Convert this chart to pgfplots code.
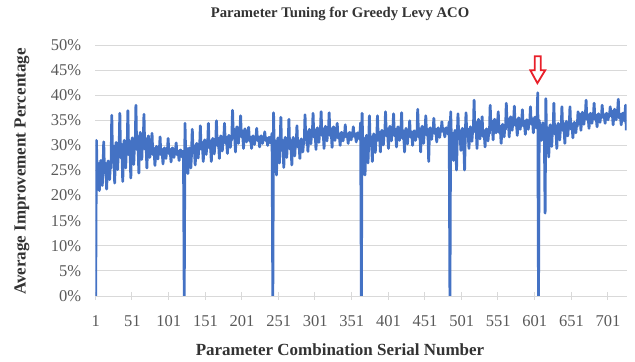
\documentclass[border=0pt]{standalone}
\usepackage{pgfplots}
\pgfplotsset{compat=1.18}
\usepackage{pgfplotstable}
\usepackage{fontspec}
\setmainfont{Liberation Serif}
\definecolor{exblue}{HTML}{4472C4}
\definecolor{gridgray}{HTML}{D9D9D9}
\definecolor{ticktext}{HTML}{595959}
\definecolor{titletext}{HTML}{333333}
\definecolor{arrowred}{HTML}{E8202A}

% Average improvement (%) for the 726 parameter combinations (one row of 11 per line)
\pgfplotstableread[row sep=\\]{
y\\
0\\ 31.0\\ 24.5\\ 26.5\\ 24.0\\ 21.0\\ 25.5\\ 27.0\\ 24.5\\ 22.0\\ 25.0\\
30.7\\ 24.6\\ 26.5\\ 25.1\\ 21.3\\ 26.0\\ 26.9\\ 25.5\\ 23.2\\ 26.0\\ 25.5\\
36.0\\ 27.2\\ 29.9\\ 27.9\\ 22.5\\ 29.3\\ 30.6\\ 28.6\\ 25.2\\ 29.3\\ 28.6\\
36.4\\ 27.6\\ 30.3\\ 28.2\\ 22.8\\ 29.6\\ 31.0\\ 28.9\\ 25.5\\ 29.6\\ 28.9\\
36.9\\ 28.2\\ 30.9\\ 28.9\\ 23.5\\ 30.2\\ 31.5\\ 29.5\\ 26.2\\ 30.2\\ 29.5\\
38.0\\ 29.2\\ 31.9\\ 29.9\\ 24.5\\ 31.3\\ 32.6\\ 30.6\\ 27.2\\ 31.3\\ 30.6\\
36.2\\ 29.3\\ 31.4\\ 29.8\\ 25.5\\ 30.9\\ 31.9\\ 30.3\\ 27.6\\ 30.9\\ 30.3\\
32.4\\ 28.2\\ 29.5\\ 28.6\\ 26.0\\ 29.2\\ 29.8\\ 28.9\\ 27.3\\ 29.2\\ 28.9\\
31.7\\ 28.2\\ 29.3\\ 28.5\\ 26.3\\ 29.0\\ 29.5\\ 28.7\\ 27.4\\ 29.0\\ 28.7\\
31.4\\ 28.4\\ 29.3\\ 28.6\\ 26.7\\ 29.1\\ 29.5\\ 28.8\\ 27.6\\ 29.1\\ 28.8\\
30.5\\ 28.2\\ 28.9\\ 28.4\\ 27.0\\ 28.8\\ 29.1\\ 28.6\\ 27.7\\ 28.8\\ 28.0\\
0\\ 34.4\\ 28.0\\ 29.5\\ 28.0\\ 24.4\\ 28.5\\ 29.5\\ 28.0\\ 25.5\\ 28.5\\
33.2\\ 28.6\\ 30.0\\ 28.9\\ 26.1\\ 29.7\\ 30.4\\ 29.3\\ 27.5\\ 29.7\\ 29.3\\
33.9\\ 29.3\\ 30.7\\ 29.6\\ 26.8\\ 30.4\\ 31.1\\ 30.0\\ 28.2\\ 30.4\\ 30.0\\
34.4\\ 29.5\\ 31.0\\ 29.8\\ 26.8\\ 30.6\\ 31.4\\ 30.2\\ 28.3\\ 30.6\\ 30.2\\
34.9\\ 30.0\\ 31.5\\ 30.4\\ 27.4\\ 31.2\\ 31.9\\ 30.8\\ 28.9\\ 31.2\\ 30.8\\
34.4\\ 30.5\\ 31.7\\ 30.8\\ 28.4\\ 31.4\\ 32.0\\ 31.1\\ 29.6\\ 31.4\\ 31.1\\
37.0\\ 31.6\\ 33.3\\ 32.0\\ 28.7\\ 32.9\\ 33.7\\ 32.4\\ 30.4\\ 32.9\\ 32.4\\
35.9\\ 31.7\\ 33.0\\ 32.0\\ 29.4\\ 32.7\\ 33.3\\ 32.3\\ 30.7\\ 32.7\\ 32.3\\
33.6\\ 30.9\\ 31.7\\ 31.1\\ 29.4\\ 31.5\\ 31.9\\ 31.3\\ 30.2\\ 31.5\\ 31.3\\
33.4\\ 31.0\\ 31.7\\ 31.2\\ 29.7\\ 31.6\\ 31.9\\ 31.4\\ 30.4\\ 31.6\\ 31.4\\
32.7\\ 31.0\\ 31.5\\ 31.1\\ 30.0\\ 31.4\\ 31.6\\ 31.2\\ 30.5\\ 31.4\\ 32.4\\
0\\ 36.5\\ 29.0\\ 31.0\\ 29.0\\ 24.1\\ 30.0\\ 31.5\\ 29.5\\ 26.5\\ 30.0\\
35.6\\ 29.1\\ 31.1\\ 29.6\\ 25.6\\ 30.6\\ 31.6\\ 30.1\\ 27.6\\ 30.6\\ 30.1\\
35.2\\ 29.3\\ 31.1\\ 29.7\\ 26.1\\ 30.7\\ 31.6\\ 30.2\\ 27.9\\ 30.7\\ 30.2\\
33.9\\ 29.7\\ 31.0\\ 30.0\\ 27.4\\ 30.7\\ 31.3\\ 30.3\\ 28.7\\ 30.7\\ 30.3\\
36.1\\ 31.4\\ 32.8\\ 31.7\\ 28.8\\ 32.5\\ 33.2\\ 32.1\\ 30.3\\ 32.5\\ 32.1\\
36.4\\ 31.7\\ 33.2\\ 32.1\\ 29.2\\ 32.8\\ 33.5\\ 32.4\\ 30.6\\ 32.8\\ 32.4\\
36.7\\ 32.0\\ 33.4\\ 32.3\\ 29.4\\ 33.1\\ 33.8\\ 32.7\\ 30.9\\ 33.1\\ 32.7\\
36.5\\ 32.0\\ 33.4\\ 32.4\\ 29.6\\ 33.1\\ 33.7\\ 32.7\\ 31.0\\ 33.1\\ 32.7\\
34.4\\ 31.5\\ 32.4\\ 31.8\\ 30.0\\ 32.2\\ 32.6\\ 32.0\\ 30.9\\ 32.2\\ 32.0\\
34.1\\ 31.7\\ 32.4\\ 31.9\\ 30.4\\ 32.3\\ 32.6\\ 32.1\\ 31.1\\ 32.3\\ 32.1\\
33.7\\ 31.8\\ 32.4\\ 31.9\\ 30.7\\ 32.2\\ 32.5\\ 32.1\\ 31.3\\ 32.2\\ 34.5\\
0\\ 36.4\\ 29.0\\ 31.5\\ 29.5\\ 24.1\\ 30.5\\ 32.0\\ 30.0\\ 26.5\\ 30.5\\
35.9\\ 30.0\\ 31.8\\ 30.4\\ 26.8\\ 31.4\\ 32.3\\ 30.9\\ 28.6\\ 31.4\\ 30.9\\
35.9\\ 31.2\\ 32.7\\ 31.6\\ 28.7\\ 32.3\\ 33.0\\ 31.9\\ 30.1\\ 32.3\\ 31.9\\
36.7\\ 32.0\\ 33.4\\ 32.3\\ 29.4\\ 33.1\\ 33.8\\ 32.7\\ 30.9\\ 33.1\\ 32.7\\
36.3\\ 32.0\\ 33.3\\ 32.3\\ 29.7\\ 33.0\\ 33.7\\ 32.7\\ 31.0\\ 33.0\\ 32.7\\
36.5\\ 31.4\\ 33.0\\ 31.8\\ 28.7\\ 32.6\\ 33.4\\ 32.2\\ 30.3\\ 32.6\\ 32.2\\
34.9\\ 31.7\\ 32.7\\ 32.0\\ 30.0\\ 32.5\\ 32.9\\ 32.2\\ 31.0\\ 32.5\\ 32.2\\
37.2\\ 31.7\\ 33.4\\ 32.1\\ 28.7\\ 33.0\\ 33.8\\ 32.5\\ 30.4\\ 33.0\\ 32.5\\
35.9\\ 32.1\\ 33.3\\ 32.4\\ 26.8\\ 33.0\\ 33.5\\ 32.7\\ 31.2\\ 33.0\\ 32.7\\
35.4\\ 32.4\\ 33.3\\ 32.6\\ 30.7\\ 33.1\\ 33.5\\ 32.8\\ 31.6\\ 33.1\\ 32.8\\
34.7\\ 32.8\\ 33.4\\ 32.9\\ 31.7\\ 33.2\\ 33.5\\ 33.1\\ 32.3\\ 33.2\\ 34.7\\
0\\ 36.7\\ 31.0\\ 32.5\\ 31.0\\ 27.0\\ 32.0\\ 33.0\\ 31.5\\ 25.1\\ 31.5\\
36.3\\ 31.6\\ 33.0\\ 31.9\\ 29.0\\ 32.7\\ 33.4\\ 32.3\\ 30.5\\ 25.1\\ 32.3\\
36.5\\ 31.9\\ 33.3\\ 32.2\\ 29.4\\ 33.0\\ 33.7\\ 32.6\\ 30.8\\ 33.0\\ 32.6\\
39.0\\ 32.8\\ 34.7\\ 33.2\\ 29.4\\ 34.2\\ 35.2\\ 33.7\\ 31.3\\ 34.2\\ 33.7\\
35.7\\ 31.8\\ 33.0\\ 32.1\\ 29.7\\ 32.7\\ 33.3\\ 32.4\\ 30.9\\ 32.7\\ 32.4\\
38.0\\ 33.5\\ 34.9\\ 33.9\\ 31.1\\ 34.6\\ 35.2\\ 34.2\\ 32.5\\ 34.6\\ 34.2\\
36.7\\ 32.6\\ 33.9\\ 32.9\\ 30.4\\ 33.6\\ 34.2\\ 33.2\\ 31.7\\ 33.6\\ 33.2\\
38.4\\ 34.1\\ 35.4\\ 34.4\\ 31.7\\ 35.1\\ 35.7\\ 34.7\\ 33.0\\ 35.1\\ 34.7\\
37.8\\ 34.0\\ 35.2\\ 34.3\\ 32.0\\ 34.9\\ 35.5\\ 34.6\\ 33.2\\ 34.9\\ 34.6\\
37.1\\ 33.9\\ 34.9\\ 34.2\\ 32.2\\ 34.7\\ 35.1\\ 34.4\\ 33.2\\ 34.7\\ 34.4\\
37.7\\ 34.3\\ 35.4\\ 34.6\\ 32.5\\ 35.1\\ 35.6\\ 34.8\\ 33.5\\ 35.1\\ 40.5\\
0\\ 35.0\\ 32.5\\ 34.0\\ 31.0\\ 33.5\\ 34.5\\ 32.0\\ 33.0\\ 16.5\\ 39.3\\
31.5\\ 33.6\\ 32.0\\ 27.7\\ 33.1\\ 34.1\\ 32.5\\ 29.8\\ 33.1\\ 32.5\\ 38.4\\
32.3\\ 34.0\\ 32.7\\ 29.4\\ 33.6\\ 34.4\\ 33.1\\ 31.1\\ 33.6\\ 33.1\\ 37.7\\
33.0\\ 34.4\\ 33.3\\ 30.4\\ 34.1\\ 34.8\\ 33.7\\ 31.9\\ 34.1\\ 33.7\\ 37.7\\
33.3\\ 34.4\\ 33.6\\ 31.5\\ 34.1\\ 34.6\\ 33.8\\ 32.5\\ 34.1\\ 33.8\\ 36.7\\
35.1\\ 36.3\\ 35.4\\ 33.0\\ 36.0\\ 36.6\\ 35.7\\ 34.2\\ 36.0\\ 35.7\\ 39.0\\
35.2\\ 36.2\\ 35.4\\ 33.4\\ 35.9\\ 36.4\\ 35.7\\ 34.4\\ 35.9\\ 35.7\\ 38.4\\
35.2\\ 36.1\\ 35.4\\ 33.7\\ 35.9\\ 36.3\\ 35.6\\ 34.6\\ 35.9\\ 35.6\\ 38.0\\
35.6\\ 36.2\\ 35.7\\ 34.4\\ 36.1\\ 36.4\\ 35.9\\ 35.1\\ 36.1\\ 35.9\\ 37.7\\
35.9\\ 36.9\\ 36.1\\ 34.1\\ 36.7\\ 37.2\\ 36.4\\ 35.1\\ 36.7\\ 36.4\\ 39.2\\
35.5\\ 36.3\\ 35.7\\ 34.1\\ 36.1\\ 36.4\\ 35.9\\ 34.9\\ 36.1\\ 38.0\\ 33.0\\
}\levydata

\begin{document}
\begin{tikzpicture}
\useasboundingbox (0,0) rectangle (635bp,362bp);
\begin{axis}[
  at={(95.3bp,66bp)}, anchor=south west,
  scale only axis, width=531.4bp, height=251bp,
  xmin=0.5, xmax=726.5, ymin=0, ymax=50,
  axis lines*=left,
  y axis line style={draw=none},
  x axis line style={draw=gridgray, line width=0.8bp},
  ymajorgrids, major grid style={draw=gridgray, line width=0.8bp},
  ytick={0,5,...,50},
  yticklabels={0\%,5\%,10\%,15\%,20\%,25\%,30\%,35\%,40\%,45\%,50\%},
  xtick={1,51,101,151,201,251,301,351,401,451,501,551,601,651,701},
  xticklabels={1,51,101,151,201,251,301,351,401,451,501,551,601,651,701},
  minor xtick={0.5,50.5,100.5,150.5,200.5,250.5,300.5,350.5,400.5,450.5,500.5,550.5,600.5,650.5,700.5},
  major tick length=0pt,
  minor tick length=8bp,
  tick align=center,
  minor tick style={draw=gridgray, line width=0.8bp},
  ticklabel style={font=\fontsize{16.5bp}{19bp}\selectfont, text=ticktext},
  yticklabel style={anchor=east, inner sep=0pt, xshift=-14bp},
  xticklabel style={anchor=north, inner sep=0pt, yshift=-19bp},
]
\addplot[exblue, line width=2.8bp, line join=round, mark=none]
  table[x expr=\coordindex+1, y=y] {\levydata};
\draw[arrowred, line width=1.8bp, fill=white, line join=miter, shift={(axis cs:605,42.4)}]
  (0,0) -- (7.5bp,13bp) -- (3bp,13bp) -- (3bp,27bp) -- (-3bp,27bp) -- (-3bp,13bp) -- (-7.5bp,13bp) -- cycle;
\end{axis}
\node[font=\bfseries\fontsize{14.7bp}{17bp}\selectfont, text=titletext] at (340bp,348bp) {Parameter Tuning for Greedy Levy ACO};
\node[font=\bfseries\fontsize{17bp}{20bp}\selectfont, text=titletext, rotate=90] at (22bp,190.5bp) {Average Improvement Percentage};
\node[font=\bfseries\fontsize{17bp}{20bp}\selectfont, text=titletext] at (340bp,12bp) {Parameter Combination Serial Number};
\end{tikzpicture}
\end{document}
